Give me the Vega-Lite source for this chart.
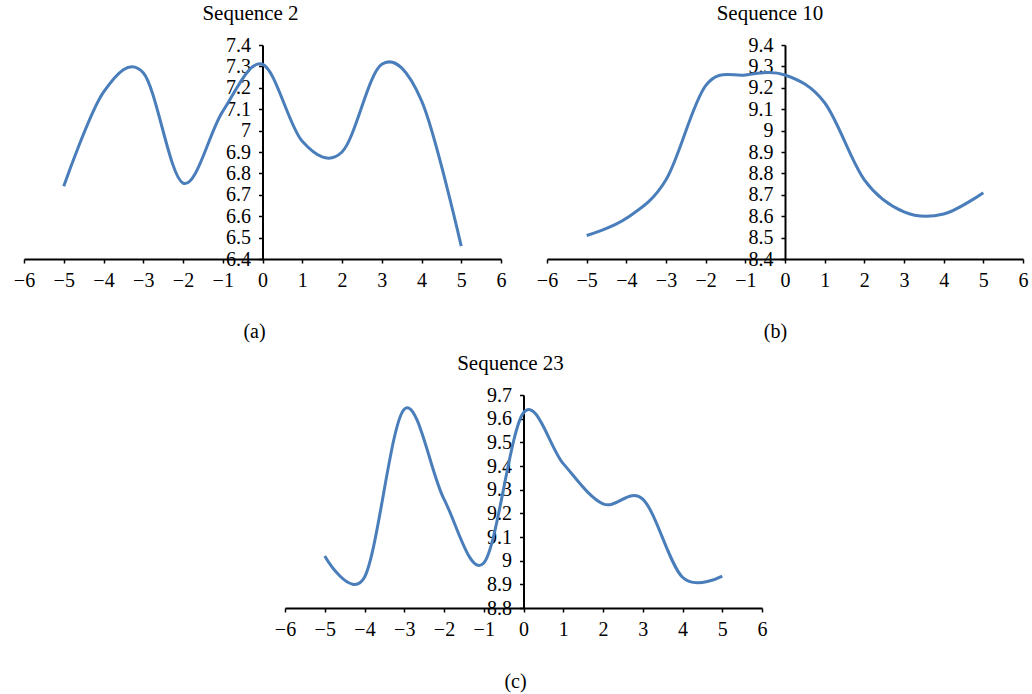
{
  "$schema": "https://vega.github.io/schema/vega-lite/v6.json",
  "background": "white",
  "padding": {"left": 13, "top": 3, "right": 4, "bottom": 4},
  "config": {
    "view": {"stroke": null},
    "font": "Liberation Serif",
    "axis": {
      "domainColor": "black", "domainWidth": 2, "tickColor": "black", "tickWidth": 1.5,
      "labelColor": "black", "labelFont": "Liberation Serif", "labelFontSize": 20,
      "grid": false, "titleFont": "Liberation Serif", "titleFontSize": 20,
      "titleFontWeight": "normal", "titleColor": "black"
    },
    "title": {"font": "Liberation Serif", "fontSize": 21, "fontWeight": "normal", "color": "black", "anchor": "middle", "frame": "group"}
  },
  "datasets": {
    "seq2": [
      {"x": -5, "y": 6.74}, {"x": -4, "y": 7.18}, {"x": -3, "y": 7.27}, {"x": -2, "y": 6.755},
      {"x": -1, "y": 7.09}, {"x": 0, "y": 7.31}, {"x": 1, "y": 6.95}, {"x": 2, "y": 6.9},
      {"x": 3, "y": 7.31}, {"x": 4, "y": 7.14}, {"x": 5, "y": 6.46}
    ],
    "seq10": [
      {"x": -5, "y": 8.51}, {"x": -4, "y": 8.59}, {"x": -3, "y": 8.77}, {"x": -2, "y": 9.21},
      {"x": -1, "y": 9.26}, {"x": 0, "y": 9.26}, {"x": 1, "y": 9.13}, {"x": 2, "y": 8.77},
      {"x": 3, "y": 8.62}, {"x": 4, "y": 8.61}, {"x": 5, "y": 8.71}
    ],
    "seq23": [
      {"x": -5, "y": 9.02}, {"x": -4, "y": 8.93}, {"x": -3, "y": 9.64}, {"x": -2, "y": 9.26},
      {"x": -1, "y": 8.99}, {"x": 0, "y": 9.625}, {"x": 1, "y": 9.41}, {"x": 2, "y": 9.24},
      {"x": 3, "y": 9.26}, {"x": 4, "y": 8.93}, {"x": 5, "y": 8.935}
    ]
  },
  "vconcat": [
    {
      "hconcat": [
        {
          "width": 477, "height": 214,
          "title": {"text": "Sequence 2", "offset": 11, "dx": -12},
          "data": {"name": "seq2"},
          "mark": {"type": "line", "interpolate": "cardinal", "color": "#4A7EBB", "strokeWidth": 3},
          "encoding": {
            "x": {"field": "x", "type": "quantitative", "scale": {"domain": [-6, 6], "nice": false},
              "axis": {"values": [-6,-5,-4,-3,-2,-1,0,1,2,3,4,5,6], "format": "d", "title": "(a)", "titleX": 230, "titleY": 72, "titleBaseline": "middle", "titleAlign": "center", "tickSize": 4, "labelPadding": 7, "labelFlush": false, "labelOverlap": false}},
            "y": {"field": "y", "type": "quantitative", "scale": {"domain": [6.4, 7.4], "nice": false, "zero": false},
              "axis": {"values": [6.4,6.5,6.6,6.7,6.8,6.9,7.0,7.1,7.2,7.3,7.4], "format": ".1~f", "title": null, "offset": -238.5, "tickSize": 4, "labelPadding": 8, "labelOverlap": false, "labelFlush": false}}
          }
        },
        {
          "width": 476, "height": 214,
          "title": {"text": "Sequence 10", "offset": 11, "dx": -15},
          "data": {"name": "seq10"},
          "mark": {"type": "line", "interpolate": "cardinal", "color": "#4A7EBB", "strokeWidth": 3},
          "encoding": {
            "x": {"field": "x", "type": "quantitative", "scale": {"domain": [-6, 6], "nice": false},
              "axis": {"values": [-6,-5,-4,-3,-2,-1,0,1,2,3,4,5,6], "format": "d", "title": "(b)", "titleX": 228, "titleY": 72, "titleBaseline": "middle", "titleAlign": "center", "tickSize": 4, "labelPadding": 7, "labelFlush": false, "labelOverlap": false}},
            "y": {"field": "y", "type": "quantitative", "scale": {"domain": [8.4, 9.4], "nice": false, "zero": false},
              "axis": {"values": [8.4,8.5,8.6,8.7,8.8,8.9,9.0,9.1,9.2,9.3,9.4], "format": ".1~f", "title": null, "offset": -238, "tickSize": 4, "labelPadding": 8, "labelOverlap": false, "labelFlush": false}}
          }
        }
      ],
      "spacing": 46,
      "bounds": "flush"
    },
    {
      "width": 477, "height": 213,
      "title": {"text": "Sequence  23", "offset": 11, "dx": -13},
      "data": {"name": "seq23"},
      "mark": {"type": "line", "interpolate": "cardinal", "color": "#4A7EBB", "strokeWidth": 3},
      "encoding": {
        "x": {"field": "x", "type": "quantitative", "scale": {"domain": [-6, 6], "nice": false},
          "axis": {"values": [-6,-5,-4,-3,-2,-1,0,1,2,3,4,5,6], "format": "d", "title": "(c)", "titleX": 230, "titleY": 73, "titleBaseline": "middle", "titleAlign": "center", "tickSize": 4, "labelPadding": 7, "labelFlush": false, "labelOverlap": false}},
        "y": {"field": "y", "type": "quantitative", "scale": {"domain": [8.8, 9.7], "nice": false, "zero": false},
          "axis": {"values": [8.8,8.9,9.0,9.1,9.2,9.3,9.4,9.5,9.6,9.7], "format": ".1~f", "title": null, "offset": -238.5, "tickSize": 4, "labelPadding": 8, "labelOverlap": false, "labelFlush": false}}
      }
    }
  ],
  "spacing": 12,
  "bounds": "full",
  "center": true
}
